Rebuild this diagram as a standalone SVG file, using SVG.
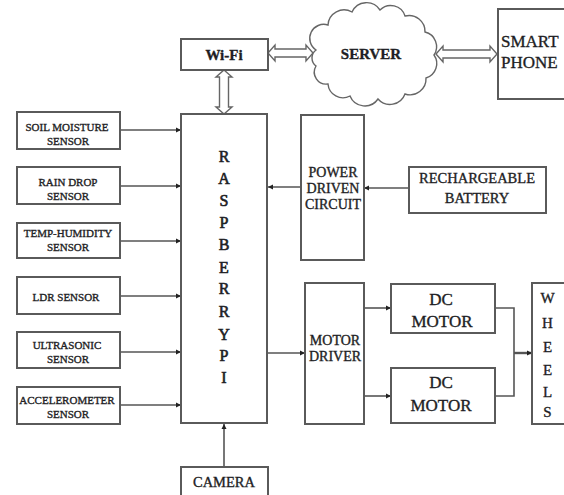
<svg xmlns="http://www.w3.org/2000/svg" width="564" height="495" viewBox="0 0 564 495">
<style>
.box{fill:#fff;stroke:#5a5a5a;stroke-width:2}
.t{font-family:"Liberation Serif","Times New Roman",serif;fill:#1e1e24;stroke:#1e1e24;stroke-width:0.35;text-anchor:middle}
.s{font-size:11px}
.m{font-size:14px}
.l{font-size:16px;stroke-width:0.6}
.w{font-size:15px}
.ln{fill:none;stroke:#555;stroke-width:1.6}
.dbl{fill:#fff;stroke:#666;stroke-width:1.4}
</style>
<defs>
<marker id="ah" markerUnits="userSpaceOnUse" markerWidth="6" markerHeight="6" refX="5" refY="3" orient="auto">
<path d="M0,0.5 L5,3 L0,5.5 z" fill="#222"/>
</marker>
</defs>
<rect width="564" height="495" fill="#fff"/>

<g id="connectors">
<line class="ln" x1="120" y1="130" x2="181" y2="130" marker-end="url(#ah)"/>
<line class="ln" x1="120" y1="186" x2="181" y2="186" marker-end="url(#ah)"/>
<line class="ln" x1="120" y1="241" x2="181" y2="241" marker-end="url(#ah)"/>
<line class="ln" x1="120" y1="296" x2="181" y2="296" marker-end="url(#ah)"/>
<line class="ln" x1="120" y1="352" x2="181" y2="352" marker-end="url(#ah)"/>
<line class="ln" x1="120" y1="405" x2="181" y2="405" marker-end="url(#ah)"/>
<line class="ln" x1="409" y1="188" x2="364" y2="188" marker-end="url(#ah)"/>
<line class="ln" x1="301" y1="187" x2="268" y2="187" marker-end="url(#ah)"/>
<line class="ln" x1="268" y1="353" x2="305" y2="353" marker-end="url(#ah)"/>
<line class="ln" x1="364" y1="308" x2="391" y2="308" marker-end="url(#ah)"/>
<line class="ln" x1="364" y1="396" x2="391" y2="396" marker-end="url(#ah)"/>
<polyline class="ln" points="495,308 514,308 514,396 495,396"/>
<line class="ln" x1="514" y1="353" x2="532" y2="353" marker-end="url(#ah)" style="stroke-width:2.4"/>
<line class="ln" x1="224" y1="467" x2="224" y2="424" marker-end="url(#ah)"/>
<polygon class="dbl" points="224,70 232,77 228.5,77 228.5,107 232,107 224,114 216,107 219.5,107 219.5,77 216,77"/>
<polygon class="dbl" points="268,53 275,45 275,49 306,49 306,45 313,53 306,61 306,57 275,57 275,61"/>
<polygon class="dbl" points="436,54 443,46 443,50 490,50 490,46 497,54 490,62 490,58 443,58 443,62"/>
</g>

<g id="wifi">
<rect class="box" x="181" y="39" width="87" height="31"/>
<text class="t" x="224" y="60" font-size="15" font-weight="bold">Wi-Fi</text>
</g>

<g id="server">
<path fill="#fff" stroke="#666" stroke-width="1.4" d="M316,50 A14,14 0 0,1 328,25 A16,16 0 0,1 352,12 A16,16 0 0,1 380,10 A15,15 0 0,1 405,16 A16,16 0 0,1 425,32 A15,15 0 0,1 434,55 A15,15 0 0,1 426,78 A16,16 0 0,1 405,94 A16,16 0 0,1 378,99 A16,16 0 0,1 350,96 A15,15 0 0,1 328,84 A12,12 0 0,1 316,66 A10,10 0 0,1 316,50 Z"/>
<text class="t" x="371" y="59" font-size="15" font-weight="bold">SERVER</text>
</g>

<g id="smartphone">
<rect class="box" x="498" y="9" width="75" height="90"/>
<text class="t" x="501" y="47" font-size="17" style="text-anchor:start">SMART</text>
<text class="t" x="501" y="68" font-size="17" style="text-anchor:start">PHONE</text>
</g>

<g id="raspberrypi">
<rect class="box" x="181" y="114" width="86" height="309"/>
<text class="t l" x="224" y="161.5">R</text>
<text class="t l" x="224" y="183.7">A</text>
<text class="t l" x="224" y="205.8">S</text>
<text class="t l" x="224" y="227.9">P</text>
<text class="t l" x="224" y="249.5">B</text>
<text class="t l" x="224" y="273">E</text>
<text class="t l" x="224" y="294.4">R</text>
<text class="t l" x="224" y="316.6">R</text>
<text class="t l" x="224" y="339.5">Y</text>
<text class="t l" x="224" y="361">P</text>
<text class="t l" x="224" y="383">I</text>
</g>

<g id="soil">
<rect class="box" x="17" y="112" width="103" height="37"/>
<text class="t s" x="67" y="130.5">SOIL MOISTURE</text>
<text class="t s" x="68" y="145">SENSOR</text>
</g>
<g id="rain">
<rect class="box" x="17" y="167" width="103" height="37"/>
<text class="t s" x="68" y="186">RAIN DROP</text>
<text class="t s" x="68" y="200">SENSOR</text>
</g>
<g id="temp">
<rect class="box" x="17" y="223" width="103" height="35"/>
<text class="t s" x="68" y="237">TEMP-HUMIDITY</text>
<text class="t s" x="68" y="251">SENSOR</text>
</g>
<g id="ldr">
<rect class="box" x="17" y="277" width="103" height="37"/>
<text class="t s" x="66" y="301">LDR SENSOR</text>
</g>
<g id="ultrasonic">
<rect class="box" x="17" y="332" width="103" height="36"/>
<text class="t s" x="67" y="348.5">ULTRASONIC</text>
<text class="t s" x="68" y="363">SENSOR</text>
</g>
<g id="accelerometer">
<rect class="box" x="17" y="387" width="103" height="37"/>
<text class="t s" x="67" y="404">ACCELEROMETER</text>
<text class="t s" x="68" y="418">SENSOR</text>
</g>

<g id="camera">
<rect class="box" x="181" y="467" width="87" height="35"/>
<text class="t" x="224" y="487" font-size="14.5">CAMERA</text>
</g>

<g id="power">
<rect class="box" x="301" y="115" width="63" height="145"/>
<text class="t m" x="333" y="177">POWER</text>
<text class="t m" x="333" y="193">DRIVEN</text>
<text class="t m" x="333" y="209">CIRCUIT</text>
</g>

<g id="battery">
<rect class="box" x="409" y="167" width="137" height="46"/>
<text class="t" x="477" y="183" font-size="14.5">RECHARGEABLE</text>
<text class="t" x="477" y="203" font-size="14.5">BATTERY</text>
</g>

<g id="motordriver">
<rect class="box" x="305" y="283" width="59" height="141"/>
<text class="t m" x="335" y="345">MOTOR</text>
<text class="t m" x="335" y="361">DRIVER</text>
</g>

<g id="dcmotor1">
<rect class="box" x="391" y="284" width="104" height="49"/>
<text class="t" x="441" y="305" font-size="17">DC</text>
<text class="t" x="442" y="327" font-size="17">MOTOR</text>
</g>
<g id="dcmotor2">
<rect class="box" x="391" y="368" width="104" height="55"/>
<text class="t" x="441" y="388" font-size="17">DC</text>
<text class="t" x="441" y="411" font-size="17">MOTOR</text>
</g>

<g id="wheels">
<rect class="box" x="532" y="283" width="40" height="141"/>
<text class="t w" x="547.5" y="303">W</text>
<text class="t w" x="547.5" y="328">H</text>
<text class="t w" x="547.5" y="352">E</text>
<text class="t w" x="547.5" y="375">E</text>
<text class="t w" x="547.5" y="397">L</text>
<text class="t w" x="547.5" y="417">S</text>
</g>
</svg>
